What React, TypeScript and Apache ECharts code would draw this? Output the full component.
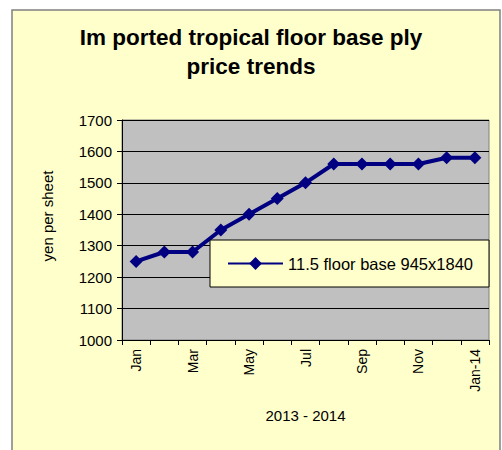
import React, { useEffect, useRef } from "react";
import * as echarts from "echarts";

const categories = ["Jan", "Feb", "Mar", "Apr", "May", "Jun", "Jul", "Aug", "Sep", "Oct", "Nov", "Dec", "Jan-14"];
const prices = [1250, 1280, 1280, 1350, 1400, 1450, 1500, 1560, 1560, 1560, 1560, 1580, 1580];
const seriesName = "11.5 floor base 945x1840";
const titleText = "Im ported tropical floor base ply\nprice trends";

export default function App() {
  const ref = useRef<HTMLDivElement>(null);
  useEffect(() => {
    if (!ref.current) return;
    const chart = echarts.init(ref.current, null, { renderer: "svg" });
    const font = "Arial, 'Liberation Sans', sans-serif";
    chart.setOption({
      animation: false,
      backgroundColor: "#ffffff",
      graphic: [
        {
          type: "rect",
          z: -10,
          silent: true,
          shape: { x: 12, y: 10, width: 488, height: 450 },
          style: { fill: "#FFFFCC", stroke: "#808080", lineWidth: 1.5 },
        },
      ],
      title: {
        text: titleText,
        left: "center",
        top: 18,
        textStyle: { fontFamily: font, fontSize: 22.5, fontWeight: "bold", color: "#000", lineHeight: 29 },
      },
      legend: {
        left: 210,
        top: 240,
        orient: "horizontal",
        backgroundColor: "#FFFFCC",
        borderColor: "#000",
        borderWidth: 1,
        padding: [15, 16, 15, 17],
        itemWidth: 55,
        itemHeight: 16,
        textStyle: { fontFamily: font, fontSize: 16.5, color: "#000" },
        data: [seriesName],
      },
      grid: {
        left: 122,
        right: 13,
        top: 120,
        bottom: 110,
        show: true,
        backgroundColor: "#C0C0C0",
        borderColor: "#808080",
        borderWidth: 1,
      },
      xAxis: {
        type: "category",
        data: categories,
        boundaryGap: true,
        name: "2013 - 2014",
        nameLocation: "middle",
        nameGap: 68,
        nameTextStyle: { fontFamily: font, fontSize: 15, color: "#000" },
        axisLine: { lineStyle: { color: "#000", width: 1 } },
        axisTick: { show: true, interval: 0, length: 5, lineStyle: { color: "#000" } },
        axisLabel: { interval: 1, rotate: 90, fontFamily: font, fontSize: 14, color: "#000", margin: 9 },
      },
      yAxis: {
        type: "value",
        min: 1000,
        max: 1700,
        interval: 100,
        name: "yen per sheet",
        nameLocation: "middle",
        nameGap: 67,
        nameTextStyle: { fontFamily: font, fontSize: 15, color: "#000", padding: [0, 0, 0, 28] },
        axisLine: { show: true, lineStyle: { color: "#000", width: 1 } },
        axisTick: { show: true, length: 5, lineStyle: { color: "#000" } },
        axisLabel: { fontFamily: font, fontSize: 15, color: "#000", margin: 10, formatter: (v: number) => String(v) },
        splitLine: { show: true, lineStyle: { color: "#000", width: 1 } },
      },
      series: [
        {
          name: seriesName,
          type: "line",
          data: prices,
          symbol: "diamond",
          symbolSize: 13,
          lineStyle: { color: "#000080", width: 4 },
          itemStyle: { color: "#000080" },
        },
      ],
    });
    return () => chart.dispose();
  }, []);
  return (
    <div
      ref={ref}
      style={{ position: "fixed", left: 0, top: 0, width: 502, height: 450 }}
    />
  );
}
